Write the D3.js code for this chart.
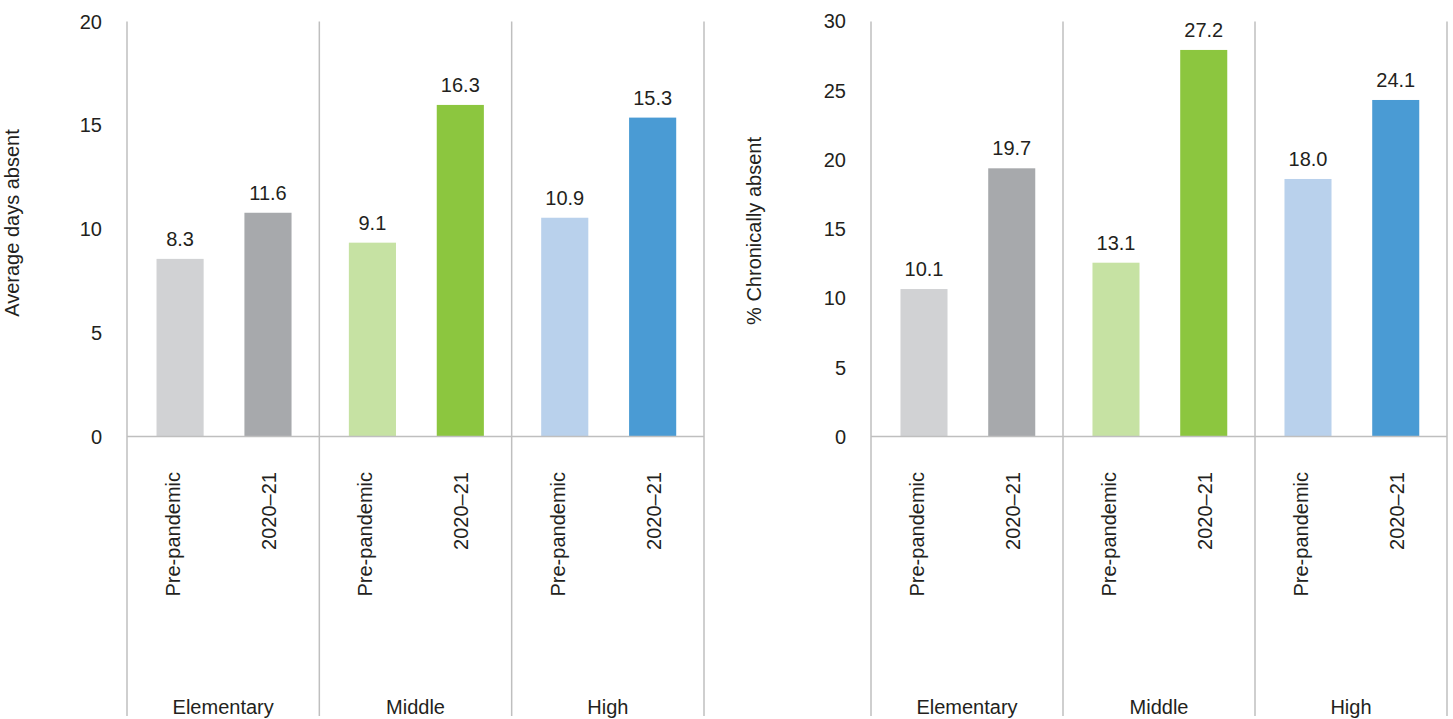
<!DOCTYPE html>
<html>
<head>
<meta charset="utf-8">
<script src="https://cdn.jsdelivr.net/npm/d3@7"></script>
<style>
  html, body { margin: 0; padding: 0; background: #fff; }
  svg { display: block; }
  text { font-family: "Liberation Sans", Arial, sans-serif; fill: #231f20; }
</style>
</head>
<body>
<svg id="chart" width="1453" height="719"></svg>
<script>
// ---- data ----
const groups = ["Elementary", "Middle", "High"];
const periods = ["Pre-pandemic", "2020\u201321"];

// Panel 1: average days absent (bar heights as drawn, printed labels)
const daysValues = [[8.55, 10.77], [9.33, 15.96], [10.53, 15.35]];
const daysLabels = [["8.3", "11.6"], ["9.1", "16.3"], ["10.9", "15.3"]];
const daysTicks = [0, 5, 10, 15, 20];

// Panel 2: % chronically absent
const chronicValues = [[10.64, 19.35], [12.54, 27.89], [18.58, 24.28]];
const chronicLabels = [["10.1", "19.7"], ["13.1", "27.2"], ["18.0", "24.1"]];
const chronicTicks = [0, 5, 10, 15, 20, 25, 30];

const colors = [["#d1d2d4", "#a7a9ac"], ["#c6e2a3", "#8cc63f"], ["#b9d1ec", "#4a9bd4"]];

const svg = d3.select("#chart");
const lineColor = "#bfbfbf";
const FS = 20;

function panel(cfg) {
  const g = svg.append("g");
  const y = d3.scaleLinear().domain([0, cfg.max]).range([436.5, cfg.top]);
  const xg = d3.scaleBand().domain(groups).range([cfg.x0, cfg.x1]);
  const bw = xg.bandwidth();
  const xp = d3.scalePoint().domain(periods).range([bw * 0.276, bw * 0.733]);
  const barW = bw * 0.245;

  // y axis tick labels
  const axis = d3.axisLeft(y).tickValues(cfg.ticks).tickSize(0).tickPadding(0).tickFormat(d3.format("d"));
  const ag = g.append("g").attr("transform", `translate(${cfg.x0 - 25},0)`).call(axis);
  ag.select(".domain").remove();
  ag.selectAll("text")
    .attr("font-size", FS)
    .attr("font-family", "Liberation Sans, Arial, sans-serif")
    .attr("fill", "#231f20")
    .attr("dy", "0.35em");

  // axis title
  g.append("text")
    .attr("transform", `translate(${cfg.titleX},${cfg.titleY}) rotate(-90)`)
    .attr("text-anchor", "middle")
    .attr("font-size", FS)
    .text(cfg.title);

  // bars
  groups.forEach((grp, gi) => {
    periods.forEach((p, pi) => {
      const cx = xg(grp) + xp(p);
      const v = cfg.values[gi][pi];
      g.append("rect")
        .attr("x", cx - barW / 2)
        .attr("y", y(v))
        .attr("width", barW)
        .attr("height", y(0) - y(v))
        .attr("fill", colors[gi][pi]);
      g.append("text")
        .attr("x", cx)
        .attr("y", y(v) - 13)
        .attr("text-anchor", "middle")
        .attr("font-size", FS)
        .text(cfg.labels[gi][pi]);
      const off = pi === 0 ? 0 : 8;
      g.append("text")
        .attr("transform", `translate(${cx + off},472) rotate(-90)`)
        .attr("text-anchor", "end")
        .attr("font-size", FS)
        .text(p);
    });
    g.append("text")
      .attr("x", xg(grp) + bw / 2)
      .attr("y", 714)
      .attr("text-anchor", "middle")
      .attr("font-size", FS)
      .text(grp);
  });

  // zero line
  g.append("line")
    .attr("x1", cfg.x0).attr("x2", cfg.x1)
    .attr("y1", y(0)).attr("y2", y(0))
    .attr("stroke", lineColor).attr("stroke-width", 1.5);

  // vertical lines (axis + group separators)
  const xs = [cfg.x0].concat(groups.map(d => xg(d) + bw));
  g.selectAll("line.sep").data(xs).enter().append("line")
    .attr("class", "sep")
    .attr("x1", d => d).attr("x2", d => d)
    .attr("y1", 21.5).attr("y2", 716)
    .attr("stroke", lineColor).attr("stroke-width", 1.5);
}

panel({ x0: 127, x1: 704, top: 21, max: 20, ticks: daysTicks,
        values: daysValues, labels: daysLabels,
        title: "Average days absent", titleX: 19, titleY: 223 });
panel({ x0: 871, x1: 1447, top: 20.7, max: 30, ticks: chronicTicks,
        values: chronicValues, labels: chronicLabels,
        title: "% Chronically absent", titleX: 761, titleY: 231 });
</script>
</body>
</html>
